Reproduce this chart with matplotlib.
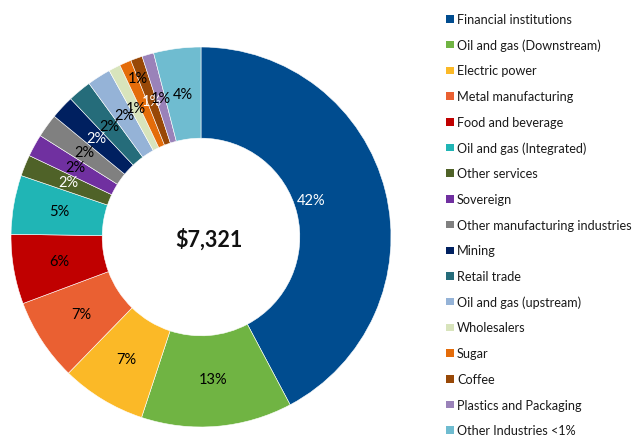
import matplotlib
matplotlib.use("Agg")
import matplotlib.pyplot as plt
from matplotlib.patches import Rectangle

plt.rcParams['font.family'] = ['Lato', 'DejaVu Sans']

categories = [
    "Financial institutions", "Oil and gas (Downstream)", "Electric power",
    "Metal manufacturing", "Food and beverage", "Oil and gas (Integrated)",
    "Other services", "Sovereign", "Other manufacturing industries", "Mining",
    "Retail trade", "Oil and gas (upstream)", "Wholesalers", "Sugar", "Coffee",
    "Plastics and Packaging", "Other Industries <1%",
]
shares = [42.1, 12.8, 7.2, 7.0, 5.9, 5.0, 1.8, 1.9, 2.0, 2.0, 2.0, 2.0,
          1.0, 1.0, 1.0, 1.0, 4.0]
total_label = "$7,321"

colors = ["#004C8F", "#70B443", "#FBB927", "#EA6032", "#C00000", "#20B5B5",
          "#4F6228", "#7030A0", "#808080", "#002060", "#256C7A", "#95B3D7",
          "#D8E4BC", "#E46C0A", "#984807", "#9A82B9", "#6FBCD0"]
text_colors = ["white", "black", "black", "black", "black", "black",
               "white", "black", "black", "white", "black", "black",
               "black", "black", "white", "black", "black"]

fig = plt.figure(figsize=(6.33, 4.36), dpi=100)
W, H = 633, 436
cx, cy, R = 201, 237, 190
ax = fig.add_axes([(cx - R) / W, (H - cy - R) / H, 2 * R / W, 2 * R / H])

wedges, texts, autotexts = ax.pie(
    shares, colors=colors, startangle=90, counterclock=False,
    autopct='%.0f%%', pctdistance=0.755,
    wedgeprops=dict(width=0.48, edgecolor='white', linewidth=0.4),
    textprops=dict(fontsize=10.5))
for t, c in zip(autotexts, text_colors):
    t.set_color(c)
# Excel-like label adjustments
autotexts[0].set_position((0.58, 0.19))
autotexts[13].set_position((-0.33, 0.83))

ax.text(0.04, -0.015, total_label, ha='center', va='center', fontsize=15.5,
        fontweight='bold', color='#111111')
ax.set_xlim(-1, 1)
ax.set_ylim(-1, 1)
ax.set_aspect('equal')
ax.axis('off')

# legend, laid out row by row in figure pixels
top, step, sq = 19, 25.7, 7.5
for i, (name, col) in enumerate(zip(categories, colors)):
    yc = top + i * step
    fig.patches.append(Rectangle(((446) / W, 1 - (yc + sq / 2) / H), sq / W, sq / H,
                                 transform=fig.transFigure, facecolor=col,
                                 edgecolor='none'))
    fig.text(457 / W, 1 - yc / H, name, ha='left', va='center_baseline',
             fontsize=9.1, color='#1a1a1a')

fig.savefig("out.png", dpi=100)
